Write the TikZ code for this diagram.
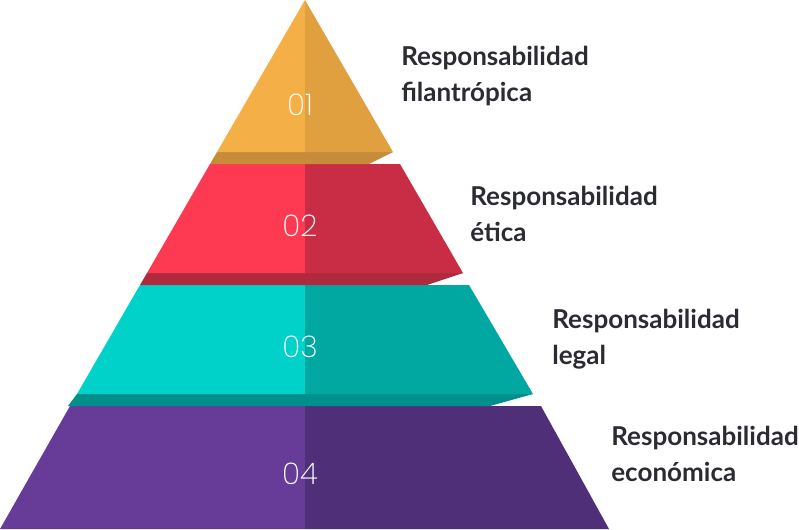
\documentclass[tikz,border=0pt]{standalone}
\usepackage{fontspec}
\setmainfont{Lato}
\newfontfamily\numfont{Poppins ExtraLight}
\definecolor{txt}{HTML}{2B2B33}
\definecolor{orgA}{HTML}{F5AF47}
\definecolor{orgB}{HTML}{E0A040}
\definecolor{orgC}{HTML}{C68C3A}
\definecolor{redA}{HTML}{FD3A52}
\definecolor{redB}{HTML}{C92D45}
\definecolor{redC}{HTML}{B02A3D}
\definecolor{tealA}{HTML}{00D1C9}
\definecolor{tealB}{HTML}{00A8A1}
\definecolor{tealC}{HTML}{008F8A}
\definecolor{purA}{HTML}{673C99}
\definecolor{purB}{HTML}{4F2F78}
\begin{document}
\begin{tikzpicture}[x=0.02cm,y=-0.02cm,
    num/.style={text=white,font=\numfont\fontsize{17}{17}\selectfont,inner sep=0pt},
    lab/.style={anchor=base west,text=txt,align=left,inner sep=0pt,
      font=\bfseries\fontsize{14.8}{20.4}\selectfont}]
  \useasboundingbox (0,0) rectangle (799,529);
  % level 4
  \fill [purA] (70,406) -- (305,406) -- (305,529) -- (0,529) -- cycle;
  \fill [purB] (305,406) -- (541,406) -- (609,529) -- (305,529) -- cycle;
  % level 3
  \fill [tealC] (77,394) -- (533,394) -- (490,406) -- (68,406) -- cycle;
  \fill [tealA] (140,285) -- (305,285) -- (305,394) -- (77,394) -- cycle;
  \fill [tealB] (305,285) -- (469,285) -- (533,394) -- (305,394) -- cycle;
  % level 2
  \fill [redC] (147,273) -- (463,273) -- (427,285) -- (140,285) -- cycle;
  \fill [redA] (210,164) -- (305,164) -- (305,273) -- (147,273) -- cycle;
  \fill [redB] (305,164) -- (400,164) -- (463,273) -- (305,273) -- cycle;
  % level 1
  \fill [orgC] (217,152) -- (393,152) -- (369,164) -- (210,164) -- cycle;
  \fill [orgA] (305,0) -- (305,152) -- (217,152) -- cycle;
  \fill [orgB] (305,0) -- (393,152) -- (305,152) -- cycle;

  \node [num] (n1) at (300,105) {01};
  \node [num] (n2) at (300,226) {02};
  \node [num] (n3) at (300,347) {03};
  \node [num] (n4) at (300,474) {04};

  % base anchor sits on the second line
  \node [lab] (l1) at (401,101) {Responsabilidad\\filantrópica};
  \node [lab] (l2) at (470,241) {Responsabilidad\\ética};
  \node [lab] (l3) at (552,364) {Responsabilidad\\legal};
  \node [lab] (l4) at (611,481) {Responsabilidad\\económica};
\end{tikzpicture}
\end{document}
